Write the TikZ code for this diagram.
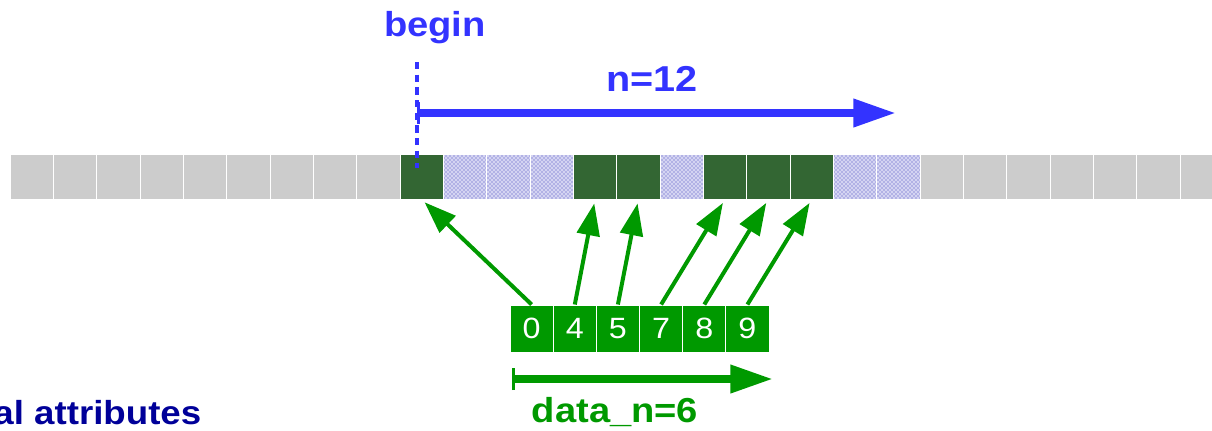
\documentclass[tikz,border=0pt]{standalone}
\usepackage{fontspec}
\setmainfont{Liberation Sans}[FakeStretch=1.1]
\usetikzlibrary{arrows.meta,patterns}

\definecolor{nblue}{HTML}{3333FF}
\definecolor{usedgreen}{HTML}{336633}
\definecolor{emptygray}{HTML}{CCCCCC}
\definecolor{datagreen}{HTML}{009900}
\definecolor{attrblue}{HTML}{000099}
\definecolor{dotblue}{HTML}{4444BB}
\definecolor{dotback}{HTML}{D4D4F2}

\tikzset{
  slot/.style={draw=white, line width=0.75pt, minimum width=32.5pt, minimum height=33.75pt, inner sep=0pt},
  emptyslot/.style={slot, fill=emptygray},
  usedslot/.style={slot, fill=usedgreen},
  freeslot/.style={slot, preaction={fill=dotback}, pattern=crosshatch dots, pattern color=dotblue},
  dslot/.style={draw=white, line width=0.75pt, fill=datagreen, minimum width=32.4pt, minimum height=35.25pt, inner sep=0pt, text=white, font=\fontsize{22}{22}\selectfont},
  ptr/.style={datagreen, line width=3pt, -{Triangle[length=24pt,width=17pt]}, shorten >=3pt},
  span/.style={line width=6pt, {Bar[width=16.5pt,line width=2.2pt]}-{Triangle[length=32pt,width=20pt]}},
  lbl/.style={font=\bfseries\fontsize{26}{26}\selectfont}
}

\begin{document}
\begin{tikzpicture}[x=0.75pt,y=-0.75pt]
\clip (0,0) rectangle (1212,430);
% buffer cells
\foreach \i in {0,1,...,8,21,22,...,27}
  \node[emptyslot] (c\i) at ({31.667+43.333*\i},176.5) {};
\foreach \i in {9,13,14,16,17,18}
  \node[usedslot] (c\i) at ({31.667+43.333*\i},176.5) {};
\foreach \i in {10,11,12,15,19,20}
  \node[freeslot] (c\i) at ({31.667+43.333*\i},176.5) {};
% begin and n
\node[lbl, text=nblue, anchor=base] (begin) at (435,36) {begin};
\coordinate (btop) at (417,62);
\coordinate (bbot) at (417,168);
\draw[nblue, line width=3pt, dash pattern=on 5.5pt off 4pt] (btop) -- (bbot);
\coordinate (nstart) at (417,113);
\coordinate (nend) at (896,113);
\draw[span, nblue] (nstart) -- (nend);
\node[lbl, text=nblue, anchor=base, font=\bfseries\fontsize{27}{27}\selectfont] (nlbl) at (652,91) {n=12};
% data array
\node[dslot] (d0) at (531.6,328.5) {0};
\node[dslot] (d1) at (574.8,328.5) {4};
\node[dslot] (d2) at (617.9,328.5) {5};
\node[dslot] (d3) at (661.1,328.5) {7};
\node[dslot] (d4) at (704.3,328.5) {8};
\node[dslot] (d5) at (747.4,328.5) {9};
\draw[ptr] (d0.north) -- (c9.south);
\draw[ptr] (d1.north) -- (c13.south);
\draw[ptr] (d2.north) -- (c14.south);
\draw[ptr] (d3.north) -- (c16.south);
\draw[ptr] (d4.north) -- (c17.south);
\draw[ptr] (d5.north) -- (c18.south);
\coordinate (dstart) at (512,379);
\coordinate (dend) at (773,379);
\draw[span, datagreen] (dstart) -- (dend);
\node[lbl, text=datagreen, anchor=base] (dlbl) at (615,422) {data\_n=6};
\node[lbl, text=attrblue, anchor=base east, font=\bfseries\fontsize{25}{25}\selectfont] (attr) at (206,424) {al attributes};
\end{tikzpicture}
\end{document}
